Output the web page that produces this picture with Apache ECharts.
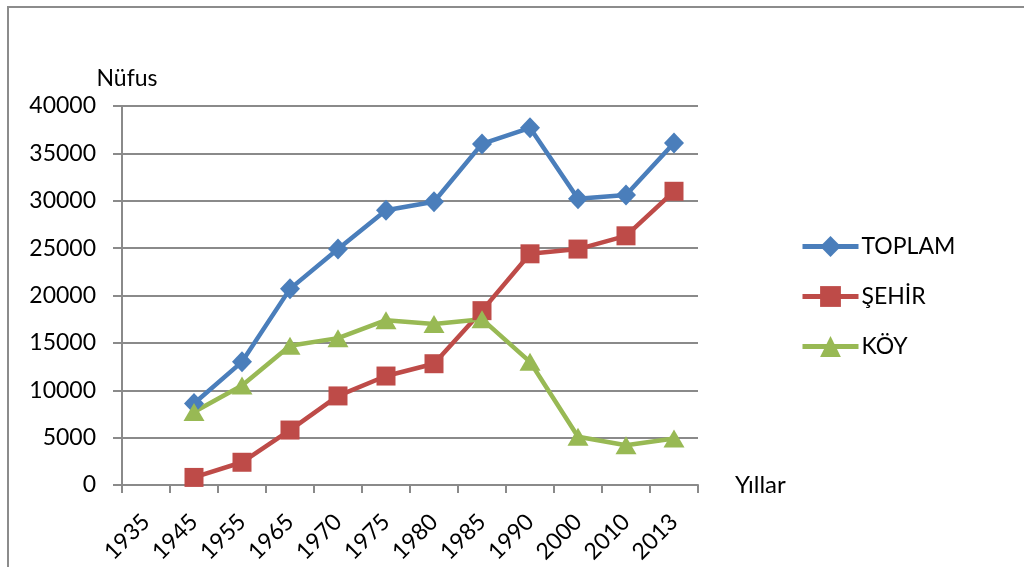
<!DOCTYPE html>
<html>
<head>
<meta charset="utf-8">
<script src="https://cdn.jsdelivr.net/npm/echarts@6/dist/echarts.min.js"></script>
<style>
  html, body { margin: 0; padding: 0; background: #fff; }
  #chart { width: 1024px; height: 567px; }
</style>
</head>
<body>
<div id="chart"></div>
<script>
// Population by census year (first year has no data)
const years = ['1935', '1945', '1955', '1965', '1970', '1975', '1980', '1985', '1990', '2000', '2010', '2013'];
const toplam = [null, 8600, 13000, 20700, 24900, 29000, 29900, 36000, 37700, 30200, 30600, 36100];
const sehir  = [null, 800, 2400, 5800, 9400, 11500, 12800, 18400, 24400, 24900, 26300, 31000];
const koy    = [null, 7700, 10500, 14700, 15500, 17400, 17000, 17500, 13000, 5100, 4200, 4900];
const yTicks = { min: 0, max: 40000, interval: 5000 };

const FONT = 'Lato, "Open Sans", sans-serif';
const FS = 23;
const GRID_GRAY = '#8a8a8a';

const chart = echarts.init(document.getElementById('chart'), null, { renderer: 'canvas' });

function lineSeries(name, data, color, symbol, size) {
  return {
    name, type: 'line', data,
    symbol, symbolSize: size,
    connectNulls: false,
    lineStyle: { color, width: 4.5 },
    itemStyle: { color },
    emphasis: { disabled: true },
    animation: false
  };
}

chart.setOption({
  animation: false,
  textStyle: { fontFamily: FONT },
  graphic: [{
    type: 'rect',
    shape: { x: 8, y: 7, width: 2000, height: 2000 },
    style: { fill: 'none', stroke: '#8c8c8c', lineWidth: 2 },
    silent: true
  }],
  grid: { left: 122, top: 106, right: 326, bottom: 82 },
  legend: {
    orient: 'vertical',
    left: 795, top: 230,
    itemWidth: 56, itemHeight: 26,
    itemGap: 24.5 + 2.5,
    lineStyle: { width: 5 },
    textStyle: { fontFamily: FONT, fontSize: FS, color: '#000', padding: [0, 0, 0, -2] },
    data: ['TOPLAM', 'ŞEHİR', 'KÖY']
  },
  xAxis: {
    type: 'category',
    data: years,
    boundaryGap: true,
    name: 'Yıllar',
    nameLocation: 'end',
    nameGap: 37,
    nameTextStyle: { fontFamily: FONT, fontSize: 24, color: '#000', verticalAlign: 'middle', padding: [6, 0, 0, 0] },
    axisLine: { lineStyle: { color: GRID_GRAY, width: 2 } },
    axisTick: { show: true, length: 8, lineStyle: { color: GRID_GRAY, width: 2 } },
    axisLabel: { interval: 0, rotate: 45, margin: 33, fontFamily: FONT, fontSize: FS, color: '#000' },
    splitLine: { show: false }
  },
  yAxis: {
    type: 'value',
    min: yTicks.min, max: yTicks.max, interval: yTicks.interval,
    name: 'Nüfus',
    nameLocation: 'end',
    nameGap: 16,
    nameTextStyle: { fontFamily: FONT, fontSize: FS, color: '#000', align: 'center', padding: [0, 0, 0, 10] },
    axisLine: { show: true, lineStyle: { color: GRID_GRAY, width: 2 } },
    axisTick: { show: true, length: 9, lineStyle: { color: GRID_GRAY, width: 2 } },
    axisLabel: { margin: 26, fontFamily: FONT, fontSize: FS, color: '#000', formatter: v => String(v) },
    splitLine: { show: true, lineStyle: { color: GRID_GRAY, width: 2 } }
  },
  series: [
    lineSeries('TOPLAM', toplam, '#4a7ebb', 'diamond', [20, 21]),
    lineSeries('ŞEHİR', sehir, '#be4b48', 'rect', 19),
    lineSeries('KÖY', koy, '#98b954', 'triangle', [21, 18])
  ]
});
</script>
</body>
</html>
